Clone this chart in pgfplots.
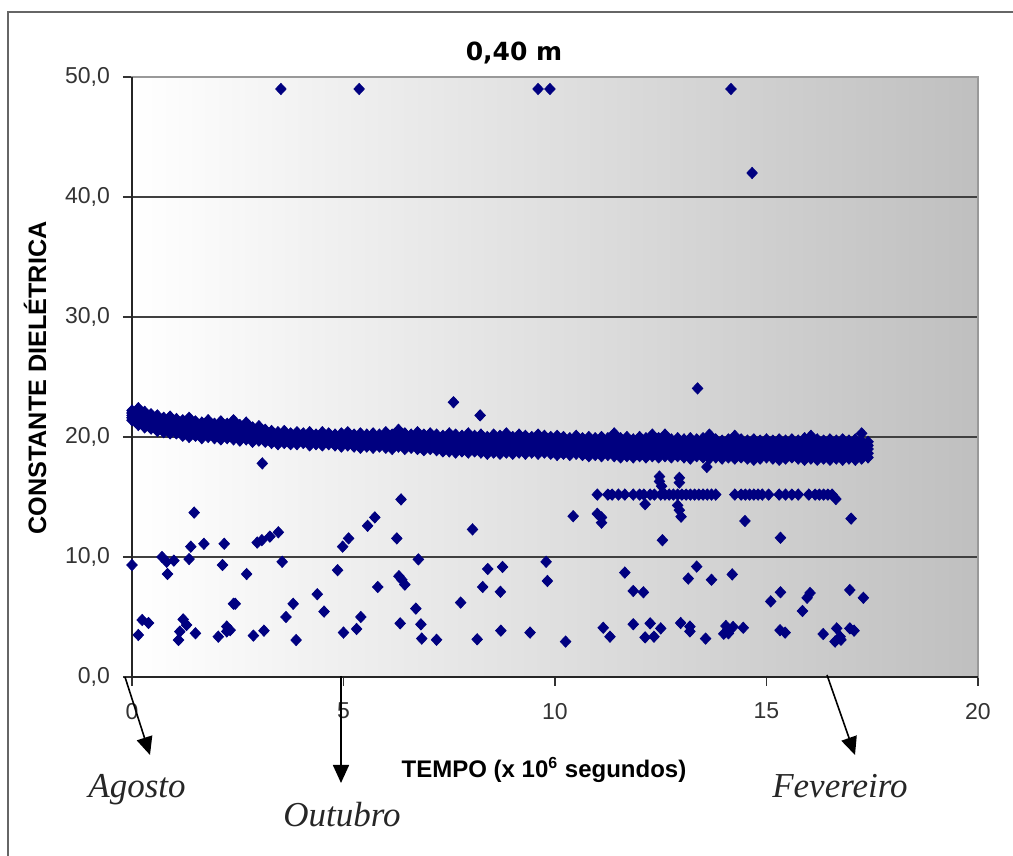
\documentclass[border=0pt]{standalone}
\usepackage{pgfplots}
\pgfplotsset{compat=1.18}
\usepackage{pgfplotstable}
\usepackage{fontspec}
\setmainfont{Liberation Sans}
\newfontfamily\titlefont{DejaVu Sans}
\newfontfamily\monthfont{Liberation Serif}
\usetikzlibrary{arrows.meta}
\definecolor{navy}{RGB}{0,0,128}
\pgfplotsset{dot/.style={only marks, mark=diamond*, mark size=2.8pt, navy, every mark/.append style={xscale=1.25}}}

\pgfplotstableread{
x t u m l b
0.00 22.2 22.0 21.8 21.6 21.4
0.15 22.4 22.05 21.7 21.35 21.0
0.30 22.1 21.8 21.5 21.15 20.8
0.45 21.9 21.6 21.3 21.0 20.7
0.60 21.8 21.5 21.2 20.85 20.5
0.75 21.6 21.3 21.0 20.7 20.4
0.90 21.7 21.35 21.0 20.65 20.3
1.05 21.5 21.2 20.9 20.6 20.3
1.20 21.4 21.1 20.8 20.45 20.1
1.35 21.6 21.2 20.8 20.4 20.0
1.50 21.3 21.0 20.7 20.4 20.1
1.65 21.2 20.9 20.6 20.25 19.9
1.80 21.4 21.05 20.7 20.35 20.0
1.95 21.1 20.8 20.5 20.2 19.9
2.10 21.3 20.95 20.6 20.2 19.8
2.25 21.1 20.75 20.4 20.15 19.9
2.40 21.4 21.0 20.6 20.2 19.8
2.55 21.0 20.7 20.4 20.05 19.7
2.70 21.2 20.85 20.5 20.15 19.8
2.85 20.8 20.5 20.2 19.9 19.6
3.00 20.9 20.6 20.3 20.0 19.7
3.15 20.6 20.35 20.1 19.85 19.6
3.30 20.5 20.25 20.0 19.75 19.5
3.45 20.4 20.15 19.9 19.65 19.4
3.60 20.5 20.25 20.0 19.75 19.5
3.75 20.3 20.1 19.9 19.65 19.4
3.90 20.4 20.15 19.9 19.65 19.4
4.05 20.3 20.05 19.8 19.65 19.5
4.20 20.4 20.15 19.9 19.6 19.3
4.35 20.2 20.0 19.8 19.6 19.4
4.50 20.4 20.1 19.8 19.55 19.3
4.65 20.3 20.0 19.7 19.55 19.4
4.80 20.2 20.0 19.8 19.55 19.3
4.95 20.3 20.0 19.7 19.45 19.2
5.10 20.4 20.1 19.8 19.55 19.3
5.25 20.2 19.95 19.7 19.45 19.2
5.40 20.3 20.0 19.7 19.4 19.1
5.55 20.2 19.9 19.6 19.4 19.2
5.70 20.3 20.0 19.7 19.4 19.1
5.85 20.2 19.9 19.6 19.4 19.2
6.00 20.4 20.05 19.7 19.4 19.1
6.15 20.2 19.9 19.6 19.3 19.0
6.30 20.6 20.2 19.8 19.5 19.2
6.45 20.3 19.95 19.6 19.3 19.0
6.60 20.2 19.9 19.6 19.35 19.1
6.75 20.4 20.05 19.7 19.35 19.0
6.90 20.2 19.85 19.5 19.2 18.9
7.05 20.3 19.95 19.6 19.3 19.0
7.20 20.2 19.85 19.5 19.2 18.9
7.35 20.1 19.8 19.5 19.15 18.8
7.50 20.3 19.9 19.5 19.15 18.8
7.65 20.2 19.8 19.4 19.05 18.7
7.80 20.1 19.8 19.5 19.15 18.8
7.95 20.3 19.85 19.4 19.05 18.7
8.10 20.1 19.75 19.4 19.1 18.8
8.25 20.2 19.8 19.4 19.05 18.7
8.40 20.0 19.65 19.3 18.95 18.6
8.55 20.2 19.8 19.4 19.05 18.7
8.70 20.1 19.7 19.3 18.95 18.6
8.85 20.3 19.85 19.4 19.05 18.7
9.00 20.0 19.65 19.3 18.95 18.6
9.15 20.2 19.8 19.4 19.05 18.7
9.30 20.1 19.7 19.3 18.95 18.6
9.45 20.0 19.65 19.3 19.0 18.7
9.60 20.2 19.8 19.4 19.0 18.6
9.75 20.1 19.7 19.3 19.0 18.7
9.90 20.0 19.65 19.3 18.95 18.6
10.05 20.1 19.7 19.3 18.9 18.5
10.20 20.0 19.6 19.2 18.9 18.6
10.35 19.9 19.55 19.2 18.85 18.5
10.50 20.1 19.7 19.3 18.95 18.6
10.65 19.9 19.55 19.2 18.85 18.5
10.80 20.0 19.6 19.2 18.8 18.4
10.95 19.9 19.5 19.1 18.8 18.5
11.10 20.0 19.6 19.2 18.8 18.4
11.25 19.9 19.5 19.1 18.8 18.5
11.40 20.3 19.75 19.2 18.8 18.4
11.55 19.9 19.5 19.1 18.7 18.3
11.70 20.0 19.55 19.1 18.75 18.4
11.85 19.8 19.4 19.0 18.65 18.3
12.00 20.0 19.55 19.1 18.75 18.4
12.15 19.9 19.5 19.1 18.7 18.3
12.30 20.2 19.65 19.1 18.75 18.4
12.45 19.9 19.45 19.0 18.65 18.3
12.60 20.2 19.65 19.1 18.75 18.4
12.75 19.8 19.4 19.0 18.65 18.3
12.90 19.9 19.5 19.1 18.75 18.4
13.05 19.8 19.4 19.0 18.65 18.3
13.20 19.9 19.45 19.0 18.6 18.2
13.35 19.8 19.45 19.1 18.75 18.4
13.50 19.9 19.45 19.0 18.65 18.3
13.65 20.2 19.6 19.0 18.6 18.2
13.80 19.8 19.4 19.0 18.65 18.3
13.95 19.7 19.3 18.9 18.55 18.2
14.10 19.8 19.4 19.0 18.65 18.3
14.25 20.1 19.55 19.0 18.6 18.2
14.40 19.8 19.35 18.9 18.6 18.3
14.55 19.7 19.35 19.0 18.6 18.2
14.70 19.8 19.35 18.9 18.5 18.1
14.85 19.7 19.35 19.0 18.6 18.2
15.00 19.8 19.35 18.9 18.6 18.3
15.15 19.7 19.3 18.9 18.55 18.2
15.30 19.8 19.4 19.0 18.55 18.1
15.45 19.7 19.3 18.9 18.55 18.2
15.60 19.8 19.35 18.9 18.6 18.3
15.75 19.7 19.35 19.0 18.6 18.2
15.90 19.9 19.4 18.9 18.5 18.1
16.05 20.1 19.55 19.0 18.6 18.2
16.20 19.8 19.35 18.9 18.5 18.1
16.35 19.7 19.3 18.9 18.55 18.2
16.50 19.8 19.4 19.0 18.55 18.1
16.65 19.7 19.3 18.9 18.55 18.2
16.80 19.8 19.35 18.9 18.5 18.1
16.95 19.7 19.35 19.0 18.6 18.2
17.10 19.8 19.35 18.9 18.5 18.1
17.25 20.3 19.65 19.0 18.6 18.2
17.40 19.6 19.3 19.0 18.65 18.3
}\band

\begin{document}
\begin{tikzpicture}
\path[use as bounding box] (0,0) rectangle (506.5pt,428pt);
\draw[black!60, line width=1.3pt] (4pt,-2pt) -- (4pt,422pt) -- (510pt,422pt);
\begin{axis}[
  at={(66pt,89.5pt)}, anchor=south west,
  width=423pt, height=300pt, scale only axis,
  xmin=0, xmax=20, ymin=0, ymax=50,
  enlargelimits=false, clip=false,
  axis background/.style={left color=white, right color=black!25},
  axis line style={draw=black!40, line width=1pt},
  xtick={0,5,10,15,20}, ytick={0,10,20,30,40,50},
  xtick pos=left, ytick pos=left,
  tick align=outside, major tick length=4.5pt,
  tick style={black!80, line width=0.9pt},
  ymajorgrids, grid style={black!75, line width=1pt},
  /pgf/number format/assume math mode=true,
  yticklabel style={/pgf/number format/.cd, fixed, fixed zerofill, precision=1, use comma, /tikz/.cd, font=\fontsize{11.5}{12}\selectfont, text=black!80, xshift=-3pt},
  xticklabel style={font=\fontsize{11.5}{12}\selectfont, text=black!80, yshift=-5pt},
]
\addplot[dot] table[x=x,y=t] {\band};
\addplot[dot] table[x=x,y=u] {\band};
\addplot[dot] table[x=x,y=m] {\band};
\addplot[dot] table[x=x,y=l] {\band};
\addplot[dot] table[x=x,y=b] {\band};
\addplot[dot] coordinates {
(3.52,49) (5.37,49) (9.6,49) (9.88,49) (14.16,49) (14.66,42.0)
(7.6,22.9) (8.23,21.8) (13.37,24.05) (3.08,17.8) (13.59,17.5)
(6.36,14.8) (1.47,13.7) (5.74,13.3) (5.57,12.6) (6.26,11.55) (5.12,11.55) (4.98,10.86)
(3.46,12.06) (3.26,11.7) (3.07,11.4) (2.96,11.2) (2.18,11.1) (1.70,11.1) (1.39,10.86)
(1.35,9.83) (0.71,10.0) (0.82,9.6) (0.99,9.7) (0.0,9.33) (0.84,8.58) (2.14,9.33)
(3.55,9.6) (2.71,8.58) (4.86,8.9) (6.77,9.8) (6.31,8.4) (6.38,8.1) (6.45,7.7)
(5.81,7.5) (4.38,6.9) (2.40,6.1) (2.44,6.1) (3.81,6.1) (4.54,5.45) (3.64,5.0) (5.41,5.0)
(6.71,5.7) (0.24,4.75) (0.39,4.5) (1.21,4.8) (1.29,4.33) (0.15,3.5) (1.13,3.78)
(1.10,3.08) (1.50,3.64) (2.04,3.36) (2.24,4.2) (2.32,3.9) (2.24,3.8) (2.87,3.45)
(3.12,3.86) (3.88,3.08) (5.0,3.7) (5.31,4.0) (6.34,4.47) (6.83,4.39) (6.85,3.2) (7.2,3.1)
(11.0,15.2) (11.25,15.2) (11.35,15.2) (11.5,15.2) (11.65,15.2) (11.85,15.2) (12.0,15.2)
(12.1,15.2) (12.25,15.2) (12.35,15.2) (12.5,15.2) (12.6,15.2) (12.7,15.2) (12.8,15.2)
(12.9,15.2) (13.0,15.2) (13.1,15.2) (13.2,15.2) (13.3,15.2) (13.4,15.2) (13.5,15.2)
(13.6,15.2) (13.7,15.2) (13.8,15.2) (14.25,15.2) (14.4,15.2) (14.5,15.2) (14.6,15.2)
(14.7,15.2) (14.8,15.2) (14.9,15.2) (15.05,15.2) (15.3,15.2) (15.45,15.2) (15.6,15.2)
(15.75,15.2) (16.0,15.2) (16.15,15.2) (16.25,15.2) (16.35,15.2) (16.45,15.2) (16.55,15.2)
(16.64,14.83)
(12.47,16.7) (12.47,16.3) (12.52,15.9) (12.94,16.6) (12.94,16.2) (12.9,14.3) (12.94,13.9)
(12.98,13.36) (12.13,14.4) (11.0,13.6) (11.1,13.3) (11.1,12.86) (10.43,13.4) (8.05,12.3)
(14.49,13.0) (17.0,13.2) (12.54,11.4) (15.33,11.6)
(8.41,9.0) (8.76,9.17) (9.79,9.6) (9.82,8.0) (8.29,7.5) (8.71,7.1) (7.77,6.2)
(11.65,8.7) (13.35,9.2) (13.15,8.2) (13.7,8.1) (14.19,8.55) (11.85,7.17) (12.09,7.06)
(15.1,6.3) (15.33,7.06) (15.85,5.5) (15.96,6.6) (16.03,7.0) (16.97,7.25) (17.29,6.6)
(8.16,3.14) (8.72,3.86) (9.41,3.7) (10.25,2.95) (11.14,4.1) (11.3,3.36) (11.85,4.4)
(12.13,3.3) (12.25,4.47) (12.34,3.36) (12.5,4.05) (12.97,4.5) (13.19,4.2) (13.19,3.8)
(13.56,3.2) (14.04,4.25) (14.1,3.64) (14.21,4.17) (14.45,4.1) (13.99,3.6) (15.32,3.9)
(15.44,3.7) (16.34,3.58) (16.66,4.05) (16.62,2.95) (16.74,3.36) (16.76,3.1) (16.97,4.05)
(17.07,3.86)
};
\draw[black!40, line width=1pt] (axis description cs:0,1) -- (axis description cs:1,1) -- (axis description cs:1,0);
\draw[black!85, line width=1pt] (axis description cs:0,1) -- (axis description cs:0,0) -- (axis description cs:1,0);
\end{axis}
\node[font=\titlefont\bfseries\fontsize{12.5}{14}\selectfont] at (257pt,401.5pt) {0,40 m};
\node[rotate=90, font=\bfseries\fontsize{12.6}{14}\selectfont] at (17.5pt,239pt) {CONSTANTE DIELÉTRICA};
\node[font=\bfseries\fontsize{12}{14}\selectfont] at (272pt,43pt) {TEMPO (x 10\textsuperscript{6} segundos)};
\node[anchor=base, font=\monthfont\itshape\fontsize{17.5}{20}\selectfont, text=black!85] at (68.5pt,29pt) {Agosto};
\node[anchor=base, font=\monthfont\itshape\fontsize{17.5}{20}\selectfont, text=black!85] at (171pt,14.5pt) {Outubro};
\node[anchor=base, font=\monthfont\itshape\fontsize{17.5}{20}\selectfont, text=black!85] at (420pt,29pt) {Fevereiro};
\draw[line width=0.8pt, -{Triangle[width=8pt,length=9pt]}] (62.5pt,89.5pt) -- (75pt,50.5pt);
\draw[line width=0.8pt, -{Triangle[width=8pt,length=9pt]}] (170.5pt,90pt) -- (170.5pt,36.5pt);
\draw[line width=0.8pt, -{Triangle[width=8pt,length=9pt]}] (413.5pt,90.5pt) -- (427.5pt,50.5pt);
\end{tikzpicture}
\end{document}
